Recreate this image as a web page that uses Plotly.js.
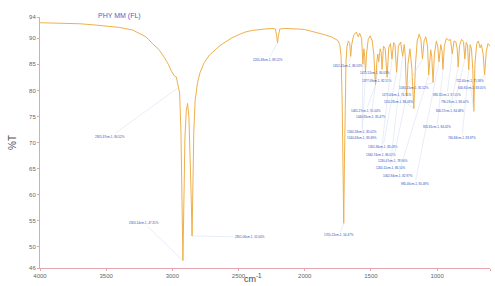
<!DOCTYPE html>
<html><head><meta charset="utf-8">
<script src="https://cdn.plot.ly/plotly-3.0.1.min.js"></script>
<style>html,body{margin:0;padding:0;background:#fff}#c{width:495px;height:286px}</style>
</head><body><div id="c"></div>
<script>
// Spectrum (wavenumber cm-1, %T)
const wavenumber = [4000,3900,3800,3700,3600,3500,3400,3300,3250,3200,3150,3100,3060,3030,3005,2985,2970,2955.37,2945,2935,2928,2920.14,2912,2905,2895,2885,2875,2865,2858,2851.06,2845,2838,2828,2810,2790,2760,2720,2680,2640,2600,2550,2500,2450,2400,2350,2300,2250,2222,2212,2205.49,2198,2188,2150,2100,2050,2000,1950,1900,1850,1800,1775,1750,1735,1725,1717,1711,1705.22,1700,1694,1688,1680,1670,1660,1652.41,1645,1630,1610,1595,1585,1570,1560.18,1553,1547,1540.63,1533,1520,1505,1490,1478,1465.27,1455,1448,1440.85,1430,1422,1415.52,1405,1392,1377.09,1365,1352,1340.74,1328,1318,1305.36,1292,1275,1260.11,1248,1240,1230.47,1220,1205,1190,1175.63,1163,1150,1135,1122,1110.28,1098,1085,1072,1062.94,1048,1040,1030.15,1020,1005,995,985.46,972,962,955.81,945,930,910,898,885.32,872,858,848,840.57,830,815,800,790.23,780,770,760.68,750,740,730,722.40,714,700,688,675,665,652,640.92,628,615,600];
const transmittance = [93.0,92.95,92.9,92.8,92.6,92.4,92.1,91.6,91.0,90.3,89.0,87.8,86.3,85.0,83.6,82.8,82.6,80.52,79.5,72.0,62.0,47.31,60.0,71.0,76.0,77.5,75.0,68.0,60.0,52.04,62.0,72.0,78.0,81.5,83.5,85.3,86.8,87.8,88.6,89.3,90.1,90.7,91.2,91.5,91.7,91.8,91.9,91.8,90.5,89.12,90.6,91.8,91.9,91.9,91.8,91.7,91.4,91.1,90.7,90.3,90.0,89.6,88.8,86.5,78.0,66.0,54.47,66.0,78.0,85.5,88.5,89.5,89.0,86.53,88.8,90.6,91.2,90.3,91.0,90.0,85.02,88.0,86.5,83.49,87.0,89.8,90.5,89.5,87.0,81.04,85.5,87.0,85.47,88.0,87.3,84.03,88.5,88.0,82.51,88.2,89.0,86.02,89.2,88.8,83.48,88.5,89.3,86.54,88.8,86.5,78.96,85.0,88.0,84.0,76.51,85.0,89.5,90.8,89.8,86.03,89.5,90.3,88.5,82.97,87.8,86.5,81.52,87.0,89.5,88.5,85.49,88.8,87.5,84.02,88.5,90.0,89.6,89.8,87.01,89.5,89.3,88.0,84.48,88.6,89.8,89.4,86.04,89.2,88.8,83.97,88.8,88.0,84.0,75.98,85.0,89.0,89.5,88.2,88.8,87.0,83.01,87.5,89.0,88.5];

// Labelled peaks
const peakWn = [2955.37,2920.14,2851.06,2205.49,1705.22,1652.41,1560.18,1540.63,1465.27,1440.85,1415.52,1377.09,1340.74,1305.36,1260.11,1230.47,1175.63,1110.28,1062.94,1030.15,985.46,955.81,885.32,840.57,790.23,760.68,722.40,640.92];
const peakT  = [80.52,47.31,52.04,89.12,54.47,86.53,85.02,83.49,81.04,85.47,84.03,82.51,86.02,83.48,86.54,78.96,76.51,86.03,82.97,81.52,85.49,84.02,87.01,84.48,86.04,83.97,75.98,83.01];

const xTickVals = [4000,3500,3000,2500,2000,1500,1000,600];
const xTickText = ['4000','3500','3000','2500','2000','1500','1000','600'];
const yTickVals = [45.9,50,55,60,65,70,75,80,85,90,94.1];
const yTickText = ['46','50','55','60','65','70','75','80','85','90','94'];

// Layout: where each peak label sits (data coordinates)
const labelX = [3471,3214,2413,2277,1741,1673,1567,1567,1537,1499,1469,1454,1424,1408,1355,1333,1310,1295,1295,1174,1167,1000,925,902,864,812,751,736];
const labelY = [71.05,54.54,51.85,85.84,52.23,84.69,72.01,70.86,76.05,74.90,83.35,81.81,67.60,69.13,65.10,66.45,79.12,77.78,63.56,80.46,62.03,72.97,79.12,76.05,77.78,70.86,81.81,80.46];

const W=495,H=286,L=40,R=5,T=17,B=18;
const pw=W-L-R, ph=H-T-B;
const px=(x)=>(x-L)/pw, py=(y)=>(H-B-y)/ph;
const FONT='Liberation Sans, Arial, sans-serif';

const ann = peakWn.map((w,i)=>({
  xref:'x',yref:'y',axref:'x',ayref:'y',
  x:w,y:peakT[i],ax:labelX[i],ay:labelY[i],
  text:w.toFixed(2)+'cm-1, '+peakT[i].toFixed(2)+'%',
  showarrow:true,arrowhead:0,arrowwidth:0.5,arrowcolor:'#d3dbf2',standoff:0,
  font:{family:FONT,size:3,color:'#2a4fc0'}
}));
ann.push({xref:'paper',yref:'paper',x:px(119),y:py(16),xanchor:'center',yanchor:'middle',
  text:'PHY MM (FL)',showarrow:false,font:{family:FONT,size:7,color:'#4466cc'}});
ann.push({xref:'paper',yref:'paper',x:px(253),y:py(286),xanchor:'center',yanchor:'bottom',
  text:'cm<sup>-1</sup>',showarrow:false,font:{family:FONT,size:9,color:'#444'}});
ann.push({xref:'paper',yref:'paper',x:px(12),y:py(143),xanchor:'center',yanchor:'middle',
  text:'%T',textangle:-90,showarrow:false,font:{family:FONT,size:10,color:'#555'}});

Plotly.newPlot('c',[{
  x:wavenumber,y:transmittance,type:'scatter',mode:'lines',
  line:{color:'#efb04a',width:1},hoverinfo:'skip'
}],{
  width:W,height:H,margin:{l:L,r:R,t:T,b:B},
  paper_bgcolor:'#fff',plot_bgcolor:'#fff',showlegend:false,
  xaxis:{range:[4000,600],tickvals:xTickVals,ticktext:xTickText,showgrid:false,zeroline:false,
    showline:true,linecolor:'#e3a6ae',linewidth:1,ticks:'outside',ticklen:2,tickcolor:'#e3a6ae',
    tickfont:{family:FONT,size:6,color:'#666'},automargin:false},
  yaxis:{range:[45.9,94.1],tickvals:yTickVals,ticktext:yTickText,showgrid:false,zeroline:false,
    showline:true,linecolor:'#e3a6ae',linewidth:1,ticks:'outside',ticklen:2,tickcolor:'#e3a6ae',
    tickfont:{family:FONT,size:6,color:'#666'},automargin:false},
  annotations:ann
},{staticPlot:true,displayModeBar:false});
</script></body></html>
